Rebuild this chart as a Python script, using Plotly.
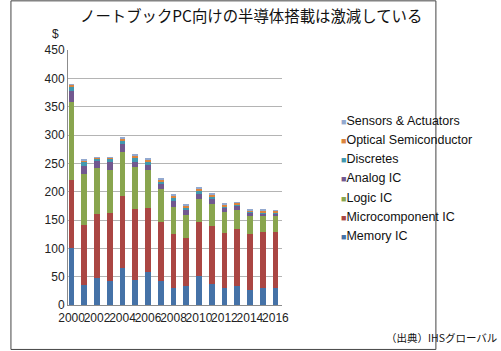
import plotly.graph_objects as go

years = list(range(2000, 2017))
memory_ic = [100, 36, 47.5, 43, 65.5, 44.6, 58.7, 42.3, 30, 33.5, 52, 36.4, 30, 33.5, 27, 30, 30]
micro_ic = [120, 106, 113.5, 120, 127, 124, 112.3, 104.5, 95.6, 85, 94.6, 103.6, 96.8, 101.5, 99, 99, 98]
logic_ic = [139, 89, 81.5, 75, 77.5, 74.5, 67, 58.2, 47.4, 41, 40, 38.5, 37, 33.5, 31, 29.5, 30.5]
analog_ic = [18, 14, 11, 14, 14, 10, 9, 8, 10, 8.8, 9.7, 8.5, 7.6, 7, 5.6, 3.5, 3.5]
discretes = [9, 9, 5.5, 6, 6.5, 7, 6.6, 5, 6.6, 4.5, 5.8, 5, 3, 2.5, 1.8, 1.8, 1.8]
optical = [2.5, 1.5, 1, 1.5, 3, 3, 2.4, 3, 3.4, 2.5, 3, 3.5, 3, 2, 2.3, 2.2, 2.2]
sensors = [1.5, 1.5, 1, 1.5, 1.5, 2, 1.7, 2.7, 2.5, 2.5, 2.5, 1.5, 1.7, 1.4, 1.3, 2, 1.3]

series_names = ["Memory IC", "Microcomponent IC", "Logic IC", "Analog IC",
                "Discretes", "Optical Semiconductor", "Sensors & Actuators"]
series_values = [memory_ic, micro_ic, logic_ic, analog_ic, discretes, optical, sensors]
colors = ["#4572A7", "#AA4643", "#89A54E", "#71588F", "#4198AF", "#DB843D", "#93A9CF"]

title_text = "ノートブックPC向けの半導体搭載は激減している"
unit_text = "$"
source_text = "（出典）IHSグローバル"

W, H = 501, 351
L, R, T, B = 67.5, 182.5, 49.7, 46

fig = go.Figure()
for name, vals, c in zip(series_names, series_values, colors):
    fig.add_trace(go.Bar(x=years, y=vals, name=name, marker=dict(color=c, line=dict(width=0)),
                         width=0.45, showlegend=False))
# legend entries (top to bottom); coloured square drawn as text glyph
for name, c in reversed(list(zip(series_names, colors))):
    label = f'<span style="color:{c};font-size:9px">■</span>{name}'
    fig.add_trace(go.Scatter(x=[None], y=[None], mode="markers", name=label,
                             marker=dict(symbol="square", size=1, color="rgba(0,0,0,0)")))

font_lat = "Liberation Sans, Arial, sans-serif"
font_jp = "Noto Sans CJK JP, sans-serif"

pw = W - L - R
ph = H - T - B

def px_to_paper_x(px):
    return (px - L) / pw

def px_to_paper_y(py):
    return (H - B - py) / ph

fig.update_layout(
    width=W, height=H,
    margin=dict(l=L, r=R, t=T, b=B, pad=0),
    barmode="stack",
    bargap=0,
    paper_bgcolor="white",
    plot_bgcolor="white",
    font=dict(family=font_lat, size=12, color="#222222"),
    xaxis=dict(range=[1999.72, 2016.5], tick0=2000, dtick=2, showgrid=False, tickangle=0,
               showline=True, linecolor="#8c8c8c", linewidth=1, ticks="", ticklabelstandoff=2,
               tickfont=dict(size=12, color="#222222"), zeroline=False, fixedrange=True),
    yaxis=dict(range=[0, 450], dtick=50, showgrid=True, gridcolor="#b4b4b4", gridwidth=1,
               showline=True, linecolor="#8c8c8c", linewidth=1, ticks="",
               tickfont=dict(size=12, color="#222222"), zeroline=False, fixedrange=True),
    legend=dict(xref="container", yref="container", x=(341 - 40) / W, y=1 - 105 / H,
                xanchor="left", yanchor="top", traceorder="normal",
                font=dict(size=12.5, color="#111111", family=font_lat),
                bgcolor="rgba(0,0,0,0)", itemwidth=30, tracegroupgap=0),
    showlegend=True,
    annotations=[
        dict(text=title_text, xref="paper", yref="paper", x=px_to_paper_x(79), y=px_to_paper_y(15),
             xanchor="left", align="left", yanchor="middle", showarrow=False,
             font=dict(family=font_jp, size=15.4, color="#111111")),
        dict(text=unit_text, xref="paper", yref="paper", x=px_to_paper_x(46), y=px_to_paper_y(34),
             xanchor="left", align="left", yanchor="middle", showarrow=False,
             font=dict(family=font_lat, size=12, color="#222222")),
        dict(text=source_text, xref="paper", yref="paper", x=px_to_paper_x(573), y=px_to_paper_y(338),
             xanchor="right", align="right", yanchor="middle", showarrow=False,
             font=dict(family=font_jp, size=10.5, color="#111111")),
    ],
    shapes=[
        dict(type="rect", xref="paper", yref="paper",
             x0=px_to_paper_x(0.5), x1=px_to_paper_x(W - 1.5),
             y0=px_to_paper_y(0.5), y1=px_to_paper_y(H - 1.5),
             line=dict(color="#444444", width=1), fillcolor="rgba(0,0,0,0)", layer="below"),
    ],
)

fig.write_html("out.html")
